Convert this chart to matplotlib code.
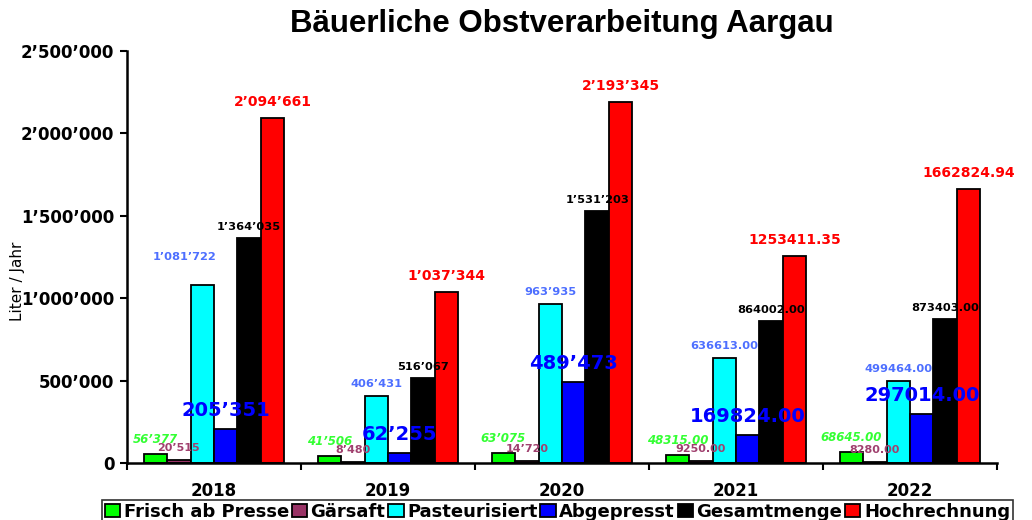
import matplotlib
matplotlib.use("Agg")
import matplotlib.pyplot as plt
import numpy as np

years = ["2018", "2019", "2020", "2021", "2022"]
series_names = [
    "Frisch ab Presse",
    "Gärsaft",
    "Pasteurisiert",
    "Abgepresst",
    "Gesamtmenge",
    "Hochrechnung",
]
frisch = [56377, 41506, 63075, 48315.00, 68645.00]
gaersaft = [20515, 8480, 14720, 9250.00, 8280.00]
pasteurisiert = [1081722, 406431, 963935, 636613.00, 499464.00]
abgepresst = [205351, 62255, 489473, 169824.00, 297014.00]
gesamtmenge = [1364035, 516067, 1531203, 864002.00, 873403.00]
hochrechnung = [2094661, 1037344, 2193345, 1253411.35, 1662824.94]
# first three years are labelled with apostrophes, the rest as raw decimals
apostrophe_years = ["2018", "2019", "2020"]

yticks = [0, 500000, 1000000, 1500000, 2000000, 2500000]

series_values = [frisch, gaersaft, pasteurisiert, abgepresst, gesamtmenge, hochrechnung]
bar_colors = ["#00FF00", "#993366", "#00FFFF", "#0000FF", "#000000", "#FF0000"]
label_styles = [
    dict(color="#33FF33", fontsize=8.5, fontstyle="italic", dy=8),
    dict(color="#A0406E", fontsize=8, fontstyle="normal", dy=7),
    dict(color="#4D6FFF", fontsize=8.2, fontstyle="normal", dy=7),
    dict(color="#0000FF", fontsize=14, fontstyle="normal", dy=9),
    dict(color="#000000", fontsize=8.2, fontstyle="normal", dy=6),
    dict(color="#FF0000", fontsize=10, fontstyle="normal", dy=9),
]
# one label in the original sits away from its bar (pixel nudges)
nudges = {("2018", 2): (-18, 16)}


def fmt_swiss(value):
    return f"{int(round(value)):,}".replace(",", "\u2019")


def fmt_label(year, value):
    if year in apostrophe_years:
        return fmt_swiss(value)
    return f"{value:.2f}"


fig = plt.figure(figsize=(10.32, 5.2), dpi=100)
ax = fig.add_axes([127 / 1032, 1 - 463 / 520, 870 / 1032, 412 / 520])

x = np.arange(len(years))
width = 0.135
for i, (name, values, color) in enumerate(zip(series_names, series_values, bar_colors)):
    offset = (i - 2.5) * width
    ax.bar(
        x + offset,
        values,
        width,
        color=color,
        edgecolor="black",
        linewidth=1.3,
        label=name,
        zorder=2,
    )
    style = label_styles[i]
    for xi, year, value in zip(x, years, values):
        dx, dy = nudges.get((year, i), (0, 0))
        ax.annotate(
            fmt_label(year, value),
            xy=(xi + offset, value),
            xytext=(dx * 0.72, (style["dy"] + dy) * 0.72),
            textcoords="offset points",
            ha="center",
            va="bottom",
            color=style["color"],
            fontsize=style["fontsize"],
            fontstyle=style["fontstyle"],
            fontweight="bold",
            annotation_clip=False,
            zorder=5,
        )

ax.set_xlim(-0.5, len(years) - 0.5)
ax.set_ylim(0, 2500000)
ax.set_yticks(yticks)
ax.set_yticklabels([fmt_swiss(v) for v in yticks], fontsize=12, fontweight="bold")
ax.set_xticks(x)
ax.set_xticklabels(years, fontsize=12, fontweight="bold")
ax.set_xticks(np.arange(len(years) + 1) - 0.5, minor=True)
ax.tick_params(axis="x", which="major", length=0, pad=14)
ax.tick_params(axis="x", which="minor", length=5, width=1.5, direction="out")
ax.tick_params(axis="y", length=5, width=1.5, direction="out", pad=4)

for side in ["top", "right"]:
    ax.spines[side].set_visible(False)
for side in ["left", "bottom"]:
    ax.spines[side].set_linewidth(1.8)

ax.set_title(
    "Bäuerliche Obstverarbeitung Aargau",
    fontsize=22.5,
    fontweight="bold",
    family="Liberation Sans",
    pad=14,
)
fig.text(
    18 / 1032,
    1 - 281 / 520,
    "Liter / Jahr",
    rotation=90,
    ha="center",
    va="center",
    fontsize=11,
)

legend = fig.legend(
    loc="upper left",
    bbox_to_anchor=(102 / 1032, 1 - 500 / 520),
    ncol=6,
    frameon=True,
    fancybox=False,
    edgecolor="black",
    prop={"weight": "bold", "size": 13},
    handlelength=0.85,
    handleheight=0.7,
    handletextpad=0.2,
    columnspacing=0.15,
    borderpad=0.15,
    borderaxespad=0,
)
legend.get_frame().set_linewidth(1.2)

fig.savefig("out.png", dpi=100)
